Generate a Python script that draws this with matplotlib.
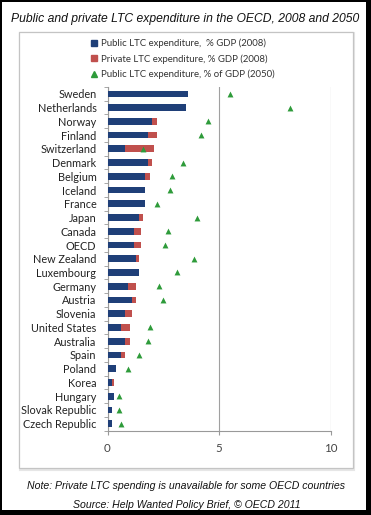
import numpy as np
import matplotlib
matplotlib.use("Agg")
import matplotlib.pyplot as plt
from matplotlib.patches import Rectangle
from matplotlib.lines import Line2D

countries = ["Sweden", "Netherlands", "Norway", "Finland", "Switzerland", "Denmark",
             "Belgium", "Iceland", "France", "Japan", "Canada", "OECD", "New Zealand",
             "Luxembourg", "Germany", "Austria", "Slovenia", "United States", "Australia",
             "Spain", "Poland", "Korea", "Hungary", "Slovak Republic", "Czech Republic"]
public_2008 = [3.6, 3.5, 2.0, 1.8, 0.8, 1.8, 1.7, 1.7, 1.7, 1.4, 1.2, 1.2, 1.3,
               1.4, 0.9, 1.1, 0.8, 0.6, 0.8, 0.6, 0.4, 0.2, 0.3, 0.2, 0.2]
private_2008 = [0.0, 0.0, 0.2, 0.4, 1.3, 0.2, 0.2, 0.0, 0.0, 0.2, 0.3, 0.3, 0.1,
                0.0, 0.4, 0.2, 0.3, 0.4, 0.2, 0.2, 0.0, 0.1, 0.0, 0.0, 0.0]
public_2050 = [5.5, 8.2, 4.5, 4.2, 1.6, 3.4, 2.9, 2.8, 2.2, 4.0, 2.7, 2.6, 3.9,
               3.1, 2.3, 2.5, np.nan, 1.9, 1.8, 1.4, 0.9, np.nan, 0.5, 0.5, 0.6]
x_ticks = [0, 5, 10]

title = "Public and private LTC expenditure in the OECD, 2008 and 2050"
legend_labels = ["Public LTC expenditure,  % GDP (2008)",
                 "Private LTC expenditure, % GDP (2008)",
                 "Public LTC expenditure, % of GDP (2050)"]
note = "Note: Private LTC spending is unavailable for some OECD countries"
source = "Source: Help Wanted Policy Brief, \u00a9 OECD 2011"

BLUE = "#1F3F78"
RED = "#C0504D"
GREEN = "#2E9B3A"
W, H = 371, 515

fig = plt.figure(figsize=(W / 100, H / 100), dpi=100)
fig.patch.set_facecolor("black")

def fx(px):
    return px / W

def fy(py):
    return 1 - py / H

# white page
fig.add_artist(Rectangle((fx(2), fy(510)), fx(366) - fx(2), fy(2) - fy(510),
                         transform=fig.transFigure, facecolor="white", edgecolor="none", zorder=0))
# chart frame with faint shadow
fig.add_artist(Rectangle((fx(20), fy(469.5)), fx(354.5) - fx(20), fy(33) - fy(469.5),
                         transform=fig.transFigure, facecolor="none", edgecolor="#e6e6e6",
                         linewidth=1.5, zorder=1))
fig.add_artist(Rectangle((fx(18.5), fy(468)), fx(353) - fx(18.5), fy(31.5) - fy(468),
                         transform=fig.transFigure, facecolor="white", edgecolor="#c4c4c4",
                         linewidth=0.9, zorder=1))

ax = fig.add_axes([fx(107.5), fy(430.5), fx(330.5) - fx(107.5), fy(87) - fy(430.5)])
ax.set_zorder(2)
ax.patch.set_alpha(0)

y = np.arange(len(countries))
ax.barh(y, public_2008, height=0.49, color=BLUE, zorder=3)
ax.barh(y, private_2008, left=public_2008, height=0.49, color=RED, zorder=3)
ax.scatter(public_2050, y, marker="^", s=18, color=GREEN, zorder=4, linewidths=0)

ax.set_xlim(0, 10)
ax.set_ylim(len(countries) - 0.5, -0.5)
ax.set_xticks(x_ticks)
ax.set_xticklabels([str(t) for t in x_ticks], fontsize=8.3, color="#444444",
                   family=["Lato", "DejaVu Sans"])
ax.set_yticks(y)
ax.set_yticklabels(countries, fontsize=7.8, color="#222222", family=["Lato", "DejaVu Sans"])
ax.tick_params(axis="y", length=0, pad=8)
ax.set_yticks(np.arange(-0.5, len(countries), 1), minor=True)
ax.tick_params(axis="y", which="minor", length=3, color="#999999", direction="out")
ax.tick_params(axis="x", length=3, color="#999999", direction="out", pad=6)
ax.xaxis.grid(True, color="#a0a0a0", linewidth=0.8)
ax.set_axisbelow(True)
for s in ["top", "right"]:
    ax.spines[s].set_visible(False)
for s in ["left", "bottom"]:
    ax.spines[s].set_color("#999999")
    ax.spines[s].set_linewidth(0.8)

handles = [
    Line2D([], [], marker="s", linestyle="none", color=BLUE, markersize=4.5),
    Line2D([], [], marker="s", linestyle="none", color=RED, markersize=4.5),
    Line2D([], [], marker="^", linestyle="none", color=GREEN, markersize=4),
]
fig.legend(handles, legend_labels, loc="center", bbox_to_anchor=(fx(182), fy(59)),
           frameon=False, prop={"family": ["Lato", "DejaVu Sans"], "size": 6.9},
           handletextpad=0.3, labelspacing=0.6, handlelength=0.9, borderaxespad=0,
           labelcolor="#333333")

fig.text(fx(185), fy(19), title, ha="center", va="center", fontsize=8.7, style="italic",
         family="Liberation Sans", color="#111111")
fig.text(fx(186), fy(486), note, ha="center", va="center", fontsize=7.6, style="italic",
         family="Liberation Sans", color="#111111")
fig.text(fx(187), fy(505), source, ha="center", va="center", fontsize=7.6, style="italic",
         family="Liberation Sans", color="#111111")

fig.savefig("out.png", dpi=100, facecolor=fig.get_facecolor())
